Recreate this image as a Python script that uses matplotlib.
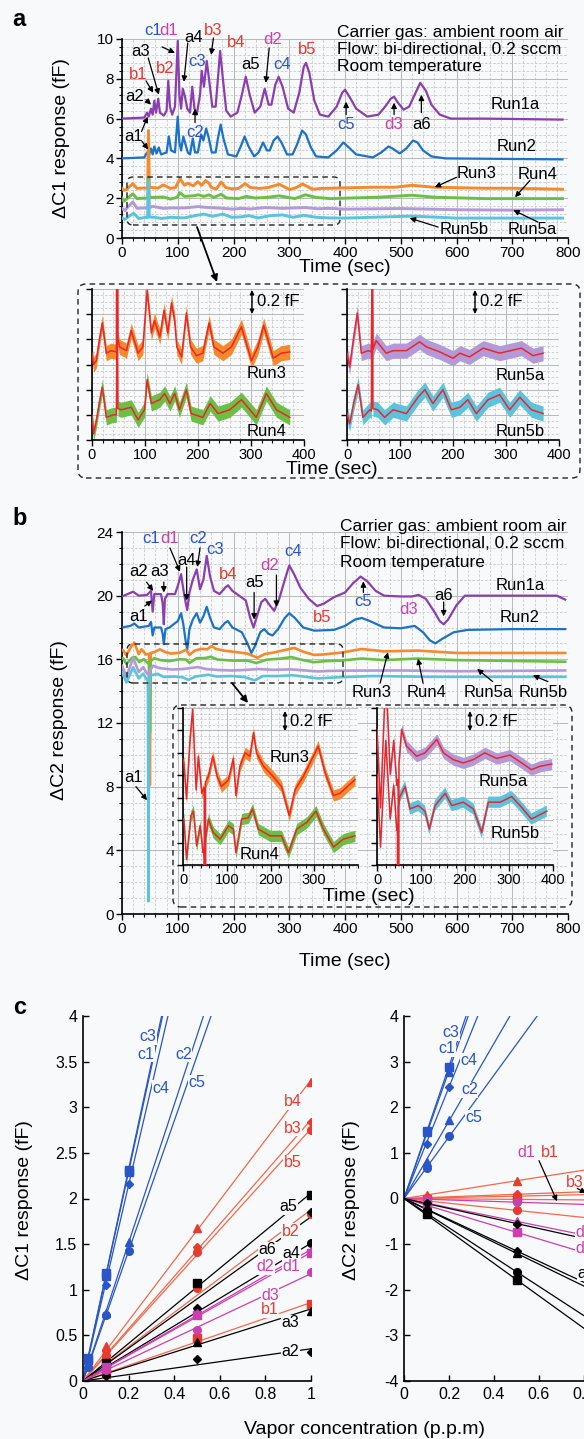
import numpy as np
import matplotlib
matplotlib.use("Agg")
import matplotlib.pyplot as plt
from matplotlib.patches import FancyBboxPatch, FancyArrowPatch
from matplotlib.ticker import MultipleLocator, FuncFormatter

W, H = 584, 1439
BG = '#f8f9fb'

plt.rcParams['font.family'] = ['Liberation Sans', 'DejaVu Sans']
plt.rcParams['axes.unicode_minus'] = False

PURPLE = '#8b3fae'
BLUE = '#1b72c6'
ORANGE = '#f58a2c'
GREEN = '#6cbf45'
LAVENDER = '#b39ad6'
CYAN = '#5cc3dd'
RED = '#e9262b'
LRED = '#e63b2e'
LBLUE = '#2a55c6'
LMAG = '#cc3fae'
LINE_RED = '#f2694a'

# ---------------- panel a : dC1 traces (time s, fF) ----------------
run1a_a = [(0, 6.0), (40, 6.05), (45, 6.3), (48, 6.1), (52, 6.5), (55, 6.2), (58, 6.9), (61, 6.3),
           (65, 7.0), (68, 6.3), (75, 6.15), (80, 6.4), (83, 7.9), (86, 6.6), (90, 6.2), (95, 6.6),
           (100, 9.9), (103, 7.2), (106, 6.5), (109, 7.5), (113, 7.1), (117, 6.5), (122, 6.3),
           (126, 7.6), (130, 6.5), (134, 6.2), (140, 7.2), (143, 8.4), (147, 7.6), (152, 8.9),
           (156, 8.0), (162, 6.6), (168, 6.6), (172, 8.0), (176, 9.4), (181, 8.0), (187, 6.4),
           (195, 6.1), (207, 6.3), (215, 7.2), (222, 8.1), (229, 7.2), (238, 6.3), (248, 6.6),
           (256, 7.5), (263, 6.7), (268, 6.7), (275, 7.7), (281, 8.1), (288, 7.6), (298, 6.5),
           (308, 6.3), (318, 7.3), (326, 8.6), (330, 8.8), (336, 8.3), (345, 6.9), (355, 6.2),
           (370, 6.1), (385, 6.6), (395, 7.3), (400, 7.45), (408, 7.1), (420, 6.5), (440, 6.1),
           (460, 6.2), (472, 6.6), (482, 7.0), (488, 7.1), (495, 6.8), (505, 6.45), (515, 6.6),
           (525, 7.2), (535, 7.8), (545, 7.4), (555, 6.7), (570, 6.2), (590, 6.0), (650, 6.0),
           (790, 5.95)]
run2_a = [(0, 4.0), (40, 4.05), (45, 4.3), (48, 4.1), (52, 4.5), (55, 4.2), (58, 4.6), (62, 4.25),
          (66, 4.55), (70, 4.2), (80, 4.3), (84, 5.1), (88, 4.4), (95, 4.3), (100, 6.1), (103, 4.8),
          (106, 4.4), (110, 5.1), (114, 4.7), (118, 4.3), (122, 4.2), (127, 5.0), (131, 4.3),
          (136, 4.3), (142, 5.2), (146, 4.9), (151, 5.5), (155, 5.1), (161, 4.3), (168, 4.3),
          (172, 5.0), (177, 5.7), (182, 5.0), (190, 4.2), (205, 4.1), (213, 4.6), (220, 5.1),
          (227, 4.6), (237, 4.1), (245, 4.3), (253, 4.8), (260, 4.4), (265, 4.4), (272, 4.9),
          (279, 5.1), (286, 4.8), (296, 4.2), (306, 4.2), (314, 4.7), (323, 5.4), (330, 5.2),
          (338, 4.6), (348, 4.1), (370, 4.05), (385, 4.4), (397, 4.8), (405, 4.6), (420, 4.2),
          (450, 4.05), (465, 4.3), (478, 4.6), (485, 4.5), (498, 4.25), (510, 4.5), (522, 4.9),
          (530, 4.8), (540, 4.4), (555, 4.1), (580, 4.0), (790, 3.95)]
run3_a = [(0, 2.49), (3, 2.40), (8, 2.43), (14, 2.6), (19.5, 2.73), (27, 2.49), (36, 2.51), (46, 2.5),
          (47.5, 5.4), (49, 2.6), (52, 2.54), (65, 2.51), (74, 2.67), (87, 2.49), (96, 2.54),
          (104, 2.99), (112, 2.65), (118, 2.75), (128, 2.62), (136, 2.83), (143, 2.65), (150, 2.89),
          (156, 2.75), (160, 2.54), (169, 2.46), (178, 2.81), (186, 2.54), (197, 2.47), (209, 2.49),
          (221, 2.73), (230, 2.54), (247, 2.49), (263, 2.54), (282, 2.70), (301, 2.43), (313, 2.54),
          (324, 2.71), (342, 2.45), (357, 2.49), (373, 2.50), (400, 2.52), (450, 2.55), (490, 2.55),
          (520, 2.65), (560, 2.55), (650, 2.5), (700, 2.5), (790, 2.45)]
run4_a = [(0, 2.0), (3, 1.85), (8, 1.95), (14, 2.1), (19.5, 2.22), (27, 1.98), (40, 2.0), (46, 2.0),
          (47.5, 3.0), (49, 2.05), (55, 2.04), (74, 2.06), (87, 1.96), (99, 2.04), (104, 2.28),
          (112, 2.09), (128, 2.12), (137, 2.17), (147, 2.09), (156, 2.17), (165, 2.04), (178, 2.20),
          (187, 2.01), (209, 1.98), (223, 2.09), (238, 2.01), (260, 2.04), (282, 2.12), (310, 1.98),
          (329, 2.17), (348, 2.04), (373, 1.98), (400, 2.0), (460, 2.05), (520, 2.15), (560, 2.05),
          (650, 1.98), (790, 1.98)]
run5a_a = [(0, 1.49), (5, 1.38), (12, 1.6), (19.5, 1.81), (27, 1.49), (40, 1.51), (46, 1.5),
           (47.5, 2.2), (49, 1.52), (55, 1.59), (74, 1.49), (87, 1.51), (112, 1.51), (137, 1.58),
           (150, 1.54), (175, 1.50), (200, 1.45), (213, 1.49), (231, 1.46), (257, 1.53), (288, 1.49),
           (329, 1.53), (351, 1.47), (370, 1.49), (400, 1.45), (500, 1.48), (600, 1.42), (700, 1.4),
           (790, 1.42)]
run5b_a = [(0, 1.01), (5, 0.93), (13, 1.1), (21, 1.24), (30, 0.98), (43, 1.04), (46, 1.03),
           (47.5, 2.9), (49, 1.05), (58, 1.04), (71, 0.98), (87, 1.04), (112, 1.01), (134, 1.14),
           (147, 1.20), (162, 1.09), (181, 1.20), (197, 1.04), (213, 1.06), (228, 1.12), (244, 1.01),
           (266, 1.12), (288, 1.16), (307, 1.04), (326, 1.14), (348, 1.04), (370, 1.01), (400, 1.0),
           (460, 1.05), (520, 1.1), (600, 1.0), (700, 1.0), (790, 1.0)]

# ---------------- panel b : dC2 traces ----------------
run1a_b = [(0, 19.95), (10, 20.1), (20, 20.25), (30, 20.0), (45, 20.05), (52, 20.3), (55, 19.0),
           (58, 20.1), (70, 20.1), (73, 19.5), (75, 18.2), (77, 19.8), (82, 20.1), (95, 20.1),
           (100, 20.6), (106, 21.35), (110, 20.4), (114, 19.6), (117, 19.1), (121, 20.2), (127, 21.0),
           (134, 21.65), (140, 20.4), (146, 21.0), (152, 22.5), (158, 21.2), (165, 20.3), (175, 20.1),
           (185, 20.5), (190, 20.65), (198, 20.3), (210, 20.0), (222, 19.7), (230, 18.6), (236, 18.0),
           (242, 18.7), (250, 19.6), (257, 19.8), (265, 19.4), (273, 19.05), (282, 19.8), (292, 21.0),
           (300, 21.9), (308, 21.4), (320, 20.5), (335, 19.8), (350, 19.35), (362, 19.5), (380, 19.9),
           (400, 20.2), (415, 20.8), (428, 21.2), (440, 20.9), (455, 20.3), (470, 20.0), (500, 19.95),
           (520, 19.95), (532, 20.05), (545, 19.8), (560, 19.0), (570, 18.4), (577, 18.2), (585, 18.5),
           (600, 19.4), (615, 20.0), (650, 20.0), (780, 20.0), (795, 19.75)]
run2_b = [(0, 18.0), (15, 18.1), (22, 18.25), (30, 18.0), (48, 18.1), (52, 18.35), (55, 17.5),
          (58, 18.0), (70, 18.0), (73, 17.6), (75, 16.95), (78, 17.9), (85, 18.0), (100, 18.4),
          (106, 18.9), (110, 18.2), (114, 17.2), (117, 16.6), (121, 17.9), (127, 18.5), (134, 18.9),
          (140, 18.3), (146, 18.7), (152, 19.3), (158, 18.6), (165, 18.0), (175, 17.9), (185, 18.3),
          (190, 18.4), (198, 18.0), (215, 17.7), (225, 17.0), (232, 16.4), (238, 16.8), (248, 17.7),
          (255, 17.9), (263, 17.6), (270, 17.5), (280, 17.9), (292, 18.6), (300, 18.9), (310, 18.6),
          (325, 18.0), (345, 17.8), (380, 17.85), (400, 18.1), (418, 18.5), (430, 18.6), (445, 18.4),
          (470, 18.0), (500, 17.95), (525, 18.1), (540, 17.7), (552, 17.2), (562, 17.0), (575, 17.3),
          (595, 17.7), (620, 17.85), (700, 17.9), (795, 17.9)]
run3_b = [(0, 16.6), (2, 16.57), (8, 16.25), (16, 16.78), (22, 17.05), (30, 16.33), (35, 16.63),
          (43, 16.30), (48.5, 16.35), (50, 8.1), (51.5, 16.4), (58, 16.45), (68, 16.63), (78, 16.45),
          (88, 16.36), (104, 16.42), (115, 16.61), (121, 16.28), (130, 16.54), (142, 16.66),
          (153, 16.63), (161, 16.84), (168, 16.66), (184, 16.54), (206, 16.45), (225, 16.36),
          (243, 16.10), (256, 16.33), (275, 16.45), (298, 16.63), (309, 16.72), (325, 16.48),
          (344, 16.28), (359, 16.30), (393, 16.42), (430, 16.65), (470, 16.5), (530, 16.55),
          (600, 16.4), (700, 16.4), (795, 16.4)]
run4_b = [(0, 16.07), (2, 16.07), (8, 15.71), (18, 16.10), (24, 16.14), (31, 15.83), (39, 16.01),
          (46, 15.77), (48.5, 15.8), (50, 11.4), (51.5, 15.9), (58, 16.07), (69, 15.95), (85, 15.89),
          (104, 16.01), (115, 15.98), (121, 15.77), (134, 16.07), (149, 16.08), (159, 16.16),
          (172, 15.98), (199, 15.92), (225, 15.92), (241, 15.77), (260, 15.98), (283, 16.04),
          (304, 16.14), (321, 15.98), (344, 15.82), (366, 15.89), (393, 15.92), (430, 16.05),
          (470, 15.95), (530, 16.05), (600, 15.95), (700, 15.9), (795, 15.85)]
run5a_b = [(0, 15.6), (8, 14.9), (20, 16.1), (30, 15.2), (38, 15.5), (45, 15.1), (48, 15.15),
           (49, 14.2), (50, 15.3), (56, 15.6), (67, 15.45), (90, 15.36), (109, 15.39), (136, 15.51),
           (151, 15.39), (173, 15.33), (196, 15.30), (219, 15.33), (245, 15.39), (272, 15.34),
           (302, 15.37), (329, 15.30), (351, 15.24), (370, 15.27), (397, 15.29), (500, 15.3),
           (600, 15.25), (795, 15.3)]
run5b_b = [(0, 15.2), (8, 14.55), (20, 15.5), (30, 14.8), (38, 15.1), (45, 14.7), (46.5, 14.75),
           (47.5, 0.8), (48.5, 14.9), (52, 15.0), (64, 15.09), (75, 14.89), (94, 14.92), (109, 14.87),
           (119, 14.71), (132, 14.92), (155, 15.03), (170, 14.92), (196, 14.95), (219, 14.89),
           (238, 14.68), (253, 14.95), (280, 14.95), (306, 15.0), (325, 14.92), (351, 14.80),
           (386, 14.87), (450, 14.95), (550, 14.9), (700, 14.9), (795, 14.9)]

# peak labels: (text, t, value, colour)
labels_a = [('c1', 56, 10.45, LBLUE), ('d1', 84, 10.45, LMAG), ('a3', 34, 9.35, 'k'),
            ('b1', 29, 8.2, LRED), ('b2', 77, 8.5, LRED), ('a2', 23, 7.1, 'k'), ('a1', 20, 5.1, 'k'),
            ('a4', 128, 10.1, 'k'), ('b3', 164, 10.45, LRED), ('b4', 204, 9.8, LRED),
            ('c3', 134, 8.85, LBLUE), ('c2', 131, 5.3, LBLUE), ('a5', 230, 8.7, 'k'),
            ('d2', 271, 9.95, LMAG), ('c4', 287, 8.7, LBLUE), ('b5', 333, 9.45, LRED),
            ('c5', 402, 5.7, LBLUE), ('d3', 488, 5.7, LMAG), ('a6', 538, 5.7, 'k'),
            ('Run1a', 705, 6.7, 'k'), ('Run2', 708, 4.6, 'k'), ('Run3', 636, 3.25, 'k'),
            ('Run4', 746, 3.2, 'k'), ('Run5b', 614, 0.45, 'k'), ('Run5a', 735, 0.45, 'k')]
arrows_a = [(72, 9.6, 95, 9.3), (47, 9.05, 66, 7.2), (43, 7.9, 56, 7.3), (43, 6.95, 52, 6.7),
            (35, 5.35, 46, 6.1), (36, 4.85, 47, 4.45), (118, 9.8, 111, 7.85), (164, 10.05, 160, 9.2),
            (131, 5.8, 131, 6.5), (264, 9.55, 258, 7.8), (402, 6.2, 402, 6.85), (488, 6.2, 488, 6.8),
            (537, 6.3, 537, 7.2), (600, 3.05, 561, 2.55), (732, 2.9, 705, 2.05),
            (567, 0.55, 516, 1.0), (746, 0.8, 702, 1.4)]
labels_b = [('c1', 52, 23.6, LBLUE), ('d1', 86, 23.6, LMAG), ('c2', 137, 23.6, LBLUE),
            ('c3', 167, 22.9, LBLUE), ('a4', 116, 22.2, 'k'), ('a2', 29, 21.5, 'k'),
            ('a3', 68, 21.5, 'k'), ('a1', 29, 18.7, 'k'), ('b4', 190, 21.35, LRED),
            ('a5', 237, 20.85, 'k'), ('d2', 265, 21.9, LMAG), ('c4', 307, 22.75, LBLUE),
            ('b5', 359, 18.65, LRED), ('c5', 433, 19.65, LBLUE), ('d3', 514, 19.15, LMAG),
            ('a6', 576, 20.0, 'k'), ('Run1a', 714, 20.65, 'k'), ('Run2', 714, 18.65, 'k'),
            ('Run3', 448, 13.9, 'k'), ('Run4', 547, 13.9, 'k'), ('Run5a', 657, 13.9, 'k'),
            ('Run5b', 755, 13.9, 'k'), ('a1', 20, 8.6, 'k')]
arrows_b = [(86, 23.0, 104, 21.5), (140, 23.0, 135, 21.8), (116, 21.8, 116, 19.7),
            (44, 20.85, 56, 20.3), (75, 20.85, 75, 20.2), (41, 19.35, 54, 19.7),
            (237, 20.2, 237, 18.5), (277, 21.3, 277, 19.3), (433, 20.2, 433, 20.9),
            (577, 19.6, 577, 18.7), (463, 14.5, 477, 16.45), (540, 14.5, 531, 16.05),
            (665, 14.6, 637, 15.4), (764, 14.6, 737, 15.0), (25, 8.0, 45, 7.15)]

# ---------------- panel c : calibration (p.p.m, fF) ----------------
conc_c = [0.02, 0.1, 0.2]
conc_abd = [0.1, 0.5, 1.0]
dc1_c3 = [0.25, 1.18, 2.31]
dc1_c1 = [0.23, 1.15, 2.29]
dc1_c4 = [0.20, 1.05, 2.16]
dc1_c2 = [0.18, 0.74, 1.52]
dc1_c5 = [0.15, 0.72, 1.42]
dc1_b4 = [0.38, 1.68, 3.28]
dc1_b3 = [0.33, 1.47, 2.84]
dc1_b5 = [0.28, 1.41, 2.75]
dc1_b2 = [0.25, 1.02, 1.83]
dc1_b1 = [0.08, 0.47, 0.84]
dc1_a5 = [0.20, 1.07, 2.04]
dc1_a6 = [0.17, 0.80, 1.85]
dc1_a4 = [0.18, 0.75, 1.51]
dc1_a3 = [0.10, 0.43, 0.77]
dc1_a2 = [0.05, 0.24, 0.32]
dc1_d1 = [0.15, 0.72, 1.40]
dc1_d2 = [0.15, 0.74, 1.43]
dc1_d3 = [0.12, 0.56, 1.19]

conc_c2 = [0.1, 0.2]
conc_abd2 = [0.1, 0.5]
dc2_c3 = [1.49, 2.88]
dc2_c1 = [1.45, 2.78]
dc2_c4 = [1.20, 2.45]
dc2_c2 = [0.79, 1.73]
dc2_c5 = [0.66, 1.36]
dc2_b4 = [0.07, 0.39]
dc2_b3 = [0.03, 0.09]
dc2_b2 = [0.02, 0.05]
dc2_b1 = [0.0, -0.02]
dc2_b5 = [-0.05, -0.26]
dc2_d1 = [-0.02, -0.08]
dc2_d2 = [-0.10, -0.50]
dc2_d3 = [-0.15, -0.74]
dc2_a4 = [-0.10, -0.55]
dc2_a2 = [-0.22, -1.15]
dc2_a3 = [-0.24, -1.20]
dc2_a6 = [-0.30, -1.61]
dc2_a5 = [-0.35, -1.78]

labels_c1 = [('c3', 0.285, 3.77, LBLUE), ('c1', 0.275, 3.58, LBLUE), ('c4', 0.34, 3.21, LBLUE),
             ('c2', 0.44, 3.58, LBLUE), ('c5', 0.5, 3.27, LBLUE), ('b4', 0.92, 3.06, LRED),
             ('b3', 0.92, 2.77, LRED), ('b5', 0.92, 2.39, LRED), ('a5', 0.90, 1.91, 'k'),
             ('b2', 0.91, 1.64, LRED), ('a6', 0.81, 1.44, 'k'), ('a4', 0.915, 1.40, 'k'),
             ('d2', 0.80, 1.25, LMAG), ('d1', 0.915, 1.25, LMAG), ('d3', 0.82, 0.94, LMAG),
             ('b1', 0.82, 0.78, LRED), ('a3', 0.91, 0.64, 'k'), ('a2', 0.91, 0.32, 'k')]
labels_c2 = [('c3', 0.21, 3.63, LBLUE), ('c1', 0.19, 3.28, LBLUE), ('c4', 0.29, 3.02, LBLUE),
             ('c2', 0.29, 2.38, LBLUE), ('c5', 0.31, 1.77, LBLUE), ('d1', 0.545, 1.0, LMAG),
             ('b1', 0.65, 1.0, LRED), ('b3', 0.76, 0.35, LRED), ('d2', 0.80, -0.74, LMAG),
             ('d3', 0.80, -1.1, LMAG), ('a2', 0.81, -1.64, 'k')]
arrows_c2 = [(0.6, 0.83, 0.68, -0.06), (0.77, 0.22, 0.81, 0.12)]


def px_axes(fig, x0, y0, x1, y1):
    ax = fig.add_axes([x0 / W, 1 - y1 / H, (x1 - x0) / W, (y1 - y0) / H])
    ax.set_facecolor(BG)
    return ax


def arr(pts):
    a = np.array(pts, dtype=float)
    return a[:, 0], a[:, 1]


def ftext(fig, x, y, s, **kw):
    fig.text(x / W, 1 - y / H, s, **kw)


def inch(x, y):
    return (x / 100, (H - y) / 100)


def dashed_box(fig, x0, y0, x1, y1, r=0.08):
    p = FancyBboxPatch(inch(x0, y1), (x1 - x0) / 100, (y1 - y0) / 100,
                       boxstyle=f"round,pad=0,rounding_size={r}",
                       transform=fig.dpi_scale_trans, fill=False,
                       ec='#222222', lw=1.0, ls=(0, (4, 3)), zorder=5)
    fig.add_artist(p)


def fig_arrow(fig, x0, y0, x1, y1, style='-|>', lw=1.3, ms=10):
    a = FancyArrowPatch(inch(x0, y0), inch(x1, y1), transform=fig.dpi_scale_trans,
                        arrowstyle=style, mutation_scale=ms, lw=lw, color='k', zorder=6,
                        shrinkA=0, shrinkB=0)
    fig.add_artist(a)


def grid_style(ax, xmaj, xmin, ymaj, ymin, labelsize=11):
    ax.xaxis.set_major_locator(MultipleLocator(xmaj))
    ax.xaxis.set_minor_locator(MultipleLocator(xmin))
    if ymaj is not None:
        ax.yaxis.set_major_locator(MultipleLocator(ymaj))
        ax.yaxis.set_minor_locator(MultipleLocator(ymin))
    ax.grid(which='major', color='#b8b8b8', lw=0.7)
    ax.grid(which='minor', color='#c9c9c9', lw=0.6, ls=(0, (3, 2)))
    ax.set_axisbelow(True)
    for s in ('top', 'right'):
        ax.spines[s].set_visible(False)
    for s in ('left', 'bottom'):
        ax.spines[s].set_linewidth(1.2)
    ax.tick_params(which='major', direction='out', length=4, width=1, labelsize=labelsize, pad=2)
    ax.tick_params(which='minor', direction='out', length=2.5, width=0.8)


def annotate_all(ax, labels, arrows, size=12):
    for s, x, y, c in labels:
        ax.text(x, y, s, color=c, fontsize=size, ha='center', va='center', zorder=6)
    for x0, y0, x1, y1 in arrows:
        ax.annotate('', xy=(x1, y1), xytext=(x0, y0), zorder=6,
                    arrowprops=dict(arrowstyle='-|>', color='k', lw=0.9,
                                    mutation_scale=8, shrinkA=0, shrinkB=0))


def inset(ax, runs, ymin, ymax, tmax, band):
    for pts, col in runs:
        t, v = arr(pts)
        m = t <= tmax
        ax.fill_between(t[m], v[m] - band, v[m] + band, color=col, lw=0, zorder=2)
        ax.plot(t[m], v[m], color=RED, lw=1.1, zorder=3)
    ax.set_xlim(0, 400)
    ax.set_ylim(ymin, ymax)
    grid_style(ax, 100, 20, None, None, labelsize=10.5)
    ax.set_yticks(np.arange(ymax, ymin - 1e-6, -0.2))
    ax.set_yticks(np.arange(ymax, ymin - 1e-6, -0.05), minor=True)
    ax.tick_params(axis='y', labelleft=False)
    ax.tick_params(which='minor', axis='y', length=0)


fig = plt.figure(figsize=(W / 100, H / 100), dpi=100, facecolor=BG)

# ===== panel a =====
ax = px_axes(fig, 122, 39, 568, 238)
for pts, col, lw in [(run1a_a, PURPLE, 1.6), (run2_a, BLUE, 1.6), (run3_a, ORANGE, 2.1),
                     (run4_a, GREEN, 2.1), (run5a_a, LAVENDER, 2.1), (run5b_a, CYAN, 2.1)]:
    t, v = arr(pts)
    ax.plot(t, v, color=col, lw=lw, zorder=3)
ax.set_xlim(0, 800)
ax.set_ylim(0, 10)
grid_style(ax, 100, 20, 2, 0.4)
annotate_all(ax, labels_a, arrows_a)
for i, s in enumerate(['Carrier gas: ambient room air', 'Flow: bi-directional, 0.2 sccm',
                       'Room temperature']):
    ftext(fig, 337, 32 + 17.5 * i, s, fontsize=12.5, va='center', ha='left')
ftext(fig, 345, 268, 'Time (sec)', fontsize=14, ha='center', va='center')
ftext(fig, 62, 138, '\u0394C1 response (fF)', fontsize=14, ha='center', va='center', rotation=90)
ftext(fig, 19, 20, 'a', fontsize=17, fontweight='bold', ha='center', va='center')
dashed_box(fig, 127, 177, 340, 225, r=0.06)
fig_arrow(fig, 197, 227, 217, 282)

# inset a
axl = px_axes(fig, 92, 289, 304, 440)
inset(axl, [(run3_a, ORANGE), (run4_a, GREEN)], 1.8, 3.0, 375, 0.06)
axr = px_axes(fig, 347, 289, 559, 440)
inset(axr, [(run5a_a, LAVENDER), (run5b_a, CYAN)], 0.8, 2.0, 375, 0.06)
dashed_box(fig, 78, 284, 580, 478)
for x in (252, 475):
    fig_arrow(fig, x, 302, x, 290, style='-|>', lw=1.0, ms=6)
    fig_arrow(fig, x, 302, x, 314, style='-|>', lw=1.0, ms=6)
    ftext(fig, x + 5, 302, '0.2 fF', fontsize=12, ha='left', va='center')
for s, x, y in [('Run3', 267, 373), ('Run4', 267, 432), ('Run5a', 520, 375), ('Run5b', 520, 431)]:
    ftext(fig, x, y, s, fontsize=12, ha='center', va='center')
ftext(fig, 332, 469, 'Time (sec)', fontsize=14, ha='center', va='center')

# ===== panel b =====
ax = px_axes(fig, 122, 532, 568, 914)
for pts, col, lw in [(run1a_b, PURPLE, 1.6), (run2_b, BLUE, 1.6), (run3_b, ORANGE, 1.9),
                     (run4_b, GREEN, 1.9), (run5a_b, LAVENDER, 1.9), (run5b_b, CYAN, 1.9)]:
    t, v = arr(pts)
    ax.plot(t, v, color=col, lw=lw, zorder=3)
ax.set_xlim(0, 800)
ax.set_ylim(0, 24)
grid_style(ax, 100, 20, 4, 1)
annotate_all(ax, labels_b, arrows_b)
for i, s in enumerate(['Carrier gas: ambient room air', 'Flow: bi-directional, 0.2 sccm',
                       'Room temperature']):
    ftext(fig, 340, 526 + 18 * i, s, fontsize=12.5, va='center', ha='left')
ftext(fig, 345, 962, 'Time (sec)', fontsize=14, ha='center', va='center')
ftext(fig, 60, 720, '\u0394C2 response (fF)', fontsize=14, ha='center', va='center', rotation=90)
ftext(fig, 20, 518, 'b', fontsize=17, fontweight='bold', ha='center', va='center')
dashed_box(fig, 127, 644, 343, 683, r=0.06)
fig_arrow(fig, 232, 683, 248, 703)

# inset b
axl = px_axes(fig, 183, 708, 358, 865)
inset(axl, [(run3_b, ORANGE), (run4_b, GREEN)], 15.66, 17.06, 393, 0.05)
axl.set_xticks([0, 100, 200, 300])
axr = px_axes(fig, 377, 708, 553, 865)
inset(axr, [(run5a_b, LAVENDER), (run5b_b, CYAN)], 14.39, 15.79, 397, 0.05)
dashed_box(fig, 173, 705, 572, 907)
for x in (285, 470):
    fig_arrow(fig, x, 721, x, 711, style='-|>', lw=1.0, ms=6)
    fig_arrow(fig, x, 721, x, 731, style='-|>', lw=1.0, ms=6)
    ftext(fig, x + 5, 721, '0.2 fF', fontsize=12, ha='left', va='center')
for s, x, y in [('Run3', 290, 757), ('Run4', 260, 855), ('Run5a', 503, 782), ('Run5b', 515, 833)]:
    ftext(fig, x, y, s, fontsize=12, ha='center', va='center')
ftext(fig, 369, 897, 'Time (sec)', fontsize=14, ha='center', va='center')

# ===== panel c =====
fmt = FuncFormatter(lambda v, p: '%g' % v)


def calib_axes(ax, ymin, ymax, ystep):
    ax.set_xlim(0, 1)
    ax.set_ylim(ymin, ymax)
    ax.xaxis.set_major_locator(MultipleLocator(0.2))
    ax.yaxis.set_major_locator(MultipleLocator(ystep))
    ax.xaxis.set_major_formatter(fmt)
    ax.yaxis.set_major_formatter(fmt)
    for s in ('top', 'right'):
        ax.spines[s].set_visible(False)
    for s in ('left', 'bottom'):
        ax.spines[s].set_linewidth(1.2)
    ax.tick_params(direction='in', length=4, width=1, labelsize=11.5, pad=4)


def series(ax, x, y, col, lcol, marker):
    x = np.asarray(x)
    y = np.asarray(y)
    k = np.sum(x * y) / np.sum(x * x)
    xs = np.array([0, 1.0])
    ax.plot(xs, k * xs, color=lcol, lw=0.9, zorder=2)
    ms = 4.5 if marker == 'D' else 5.5
    ax.plot(x, y, ls='none', marker=marker, ms=ms, color=col, zorder=4)


ax = px_axes(fig, 83, 1016, 311, 1381)
calib_axes(ax, 0, 4, 0.5)
for y, m in [(dc1_c3, 's'), (dc1_c1, 's'), (dc1_c4, 'D'), (dc1_c2, '^'), (dc1_c5, 'o')]:
    series(ax, conc_c, y, LBLUE, LBLUE, m)
for y, m in [(dc1_b4, '^'), (dc1_b3, 'D'), (dc1_b5, 'o'), (dc1_b2, 'o'), (dc1_b1, 's')]:
    series(ax, conc_abd, y, LRED, LINE_RED, m)
for y, m in [(dc1_a5, 's'), (dc1_a6, 'D'), (dc1_a4, 'o'), (dc1_a3, '^'), (dc1_a2, 'D')]:
    series(ax, conc_abd, y, 'k', 'k', m)
for y, m in [(dc1_d1, 's'), (dc1_d2, '^'), (dc1_d3, 'o')]:
    series(ax, conc_abd, y, LMAG, LMAG, m)
for s, x, y, c in labels_c1:
    ax.text(x, y, s, color=c, fontsize=11.5, ha='center', va='center', zorder=5,
            bbox=dict(fc=BG, ec='none', pad=0.3))
ftext(fig, 25, 1200, '\u0394C1 response (fF)', fontsize=14, ha='center', va='center', rotation=90)
ftext(fig, 20, 1007, 'c', fontsize=17, fontweight='bold', ha='center', va='center')

ax = px_axes(fig, 404, 1016, 629, 1381)
calib_axes(ax, -4, 4, 1)
for y, m in [(dc2_c3, 's'), (dc2_c1, '^'), (dc2_c4, 'D'), (dc2_c2, '^'), (dc2_c5, 'o')]:
    series(ax, conc_c2, y, LBLUE, LBLUE, m)
for y, m in [(dc2_b4, '^'), (dc2_b3, 'D'), (dc2_b2, 'o'), (dc2_b1, 's'), (dc2_b5, 'o')]:
    series(ax, conc_abd2, y, LRED, LINE_RED, m)
for y, m in [(dc2_d1, 'o'), (dc2_d2, '^'), (dc2_d3, 's')]:
    series(ax, conc_abd2, y, LMAG, LMAG, m)
for y, m in [(dc2_a4, 'D'), (dc2_a2, 'D'), (dc2_a3, '^'), (dc2_a6, 'o'), (dc2_a5, 's')]:
    series(ax, conc_abd2, y, 'k', 'k', m)
for s, x, y, c in labels_c2:
    ax.text(x, y, s, color=c, fontsize=11.5, ha='center', va='center', zorder=5,
            bbox=dict(fc=BG, ec='none', pad=0.3))
for x0, y0, x1, y1 in arrows_c2:
    ax.annotate('', xy=(x1, y1), xytext=(x0, y0), zorder=6,
                arrowprops=dict(arrowstyle='-|>', color='k', lw=0.9, mutation_scale=8,
                                shrinkA=0, shrinkB=0))
ftext(fig, 352, 1200, '\u0394C2 response (fF)', fontsize=14, ha='center', va='center', rotation=90)
ftext(fig, 364, 1430, 'Vapor concentration (p.p.m)', fontsize=14, ha='center', va='center')

fig.savefig('out.png', dpi=100, facecolor=BG)
